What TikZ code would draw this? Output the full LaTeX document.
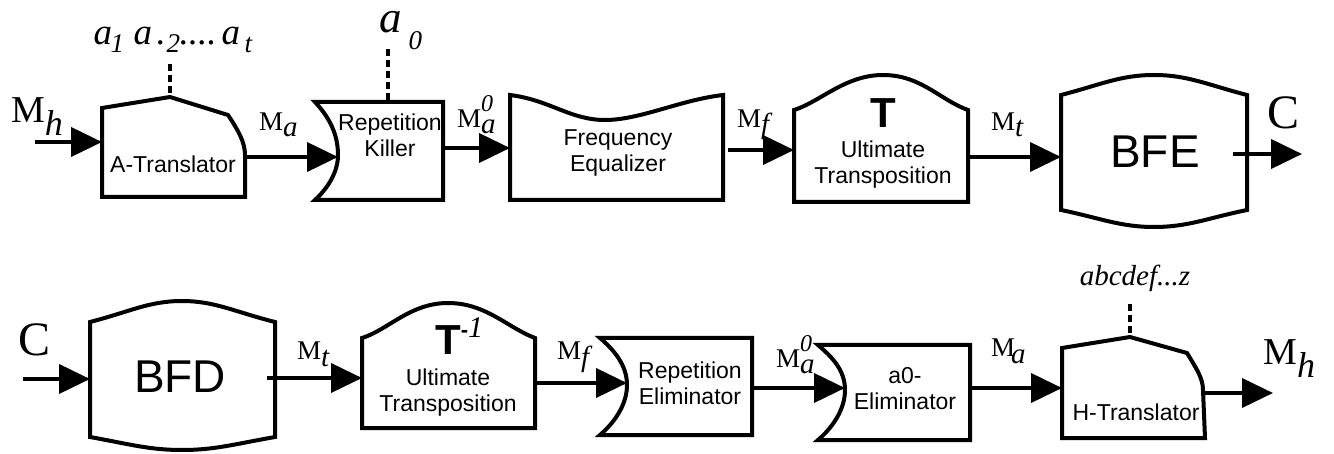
\documentclass[tikz,border=0pt]{standalone}
\usepackage{fontspec}
\setmainfont{Liberation Serif}
\setsansfont{Liberation Sans}
\usetikzlibrary{arrows.meta}
\newcommand\fsz[1]{\fontsize{#1}{#1}\selectfont}
\newcommand\Msb[1]{{\fsz{27}M\raisebox{-6pt}{\fsz{29}\itshape #1}}}
\newcommand\Msbz[1]{{\fsz{27}M\rlap{\raisebox{16pt}{\fsz{24}\itshape 0}}\raisebox{-6pt}{\fsz{29}\itshape #1}}}
\newcommand\Mbig{{\fsz{38}M\raisebox{-13pt}{\fsz{36}\itshape h}}}
\newcommand\at[2]{\rlap{\hspace{#1}#2}}
\begin{document}
\begin{tikzpicture}[x=1pt,y=-1pt,
  shp/.style={line width=4pt},
  conn/.style={line width=4pt,-{Triangle[length=31pt,width=29pt]}},
  dsh/.style={line width=4pt,dash pattern=on 7pt off 4pt},
  btxt/.style={font=\sffamily\fontsize{23}{26}\selectfont, align=center, inner sep=0pt},
  bigtxt/.style={font=\sffamily\fsz{46}, inner sep=0pt},
  lbl/.style={inner sep=0pt, anchor=base west},
  ]
\useasboundingbox (0,0) rectangle (1334,454);

% ---------- top row ----------
% A-Translator
\draw[shp] (102,197) -- (102,108) -- (170,97) -- (228,115) .. controls (238,130) and (245,142) .. (245,155) -- (245,197) -- cycle;
\node[btxt] (atr) at (173,164) {A-Translator};
\coordinate (atrIn) at (102,142);
\coordinate (atrOut) at (245,157);
\coordinate (atrTop) at (170,97);
\coordinate (atrDash) at (170,64);
\node[lbl, font=\fsz{37}\itshape] (alist) at (93,45) {\at{0pt}{a}\at{17pt}{\raisebox{-8pt}{\fsz{27}1}}\at{40pt}{a}\at{63pt}{.}\at{73pt}{\raisebox{-8pt}{\fsz{27}2}}\at{86pt}{....}\at{128pt}{a}\at{151pt}{\raisebox{-8pt}{\fsz{27}t}}};
\draw[dsh] (atrDash) -- (atrTop);

% Repetition Killer
\draw[shp] (315,102) -- (443,102) -- (443,200) -- (315,200) .. controls (328,188) and (338,172) .. (338,155) .. controls (338,135) and (330,118) .. (315,102) -- cycle;
\node[btxt] (rk) at (390,135) {Repetition\\Killer};
\coordinate (rkIn) at (338,157);
\coordinate (rkOut) at (443,148);
\coordinate (rkTop) at (388,102);
\coordinate (rkDash) at (388,49);
\node[lbl] (azero) at (379,33) {\fsz{45}\itshape a\hspace{7pt}\raisebox{-17pt}{\fsz{27}0}};
\draw[dsh] (rkDash) -- (rkTop);

% Frequency Equalizer
\draw[shp] (510,200) -- (510,95) .. controls (550,100) and (570,120) .. (605,120) .. controls (640,120) and (680,100) .. (723,95) -- (723,200) -- cycle;
\node[btxt] (fe) at (618,153) {Frequency\\Equalizer};
\coordinate (feIn) at (510,148);
\coordinate (feOut) at (728,150);

% Ultimate Transposition
\draw[shp] (794,202) -- (794,110) .. controls (820,102) and (845,75) .. (883,75) .. controls (921,75) and (940,100) .. (968,110) -- (968,202) -- cycle;
\node[font=\sffamily\bfseries\fsz{42}, inner sep=0pt] (utT) at (883,113) {T};
\node[btxt] (ut) at (883,165) {Ultimate\\Transposition};
\coordinate (utIn) at (794,150);
\coordinate (utOut) at (968,157);

% BFE
\draw[shp] (1061,210) -- (1061,95) .. controls (1100,85) and (1120,75) .. (1154,75) .. controls (1188,75) and (1208,85) .. (1247,95) -- (1247,210) .. controls (1208,218) and (1188,227) .. (1154,227) .. controls (1120,227) and (1100,218) .. (1061,210) -- cycle;
\node[bigtxt] (bfe) at (1155,152) {BFE};
\coordinate (bfeIn) at (1061,157);
\coordinate (bfeOut) at (1233,154);
\coordinate (cOut) at (1302,154);

% top connectors
\coordinate (mhIn) at (35,142);
\draw[conn] (mhIn) -- (atrIn);
\draw[conn] (atrOut) -- (rkIn);
\draw[conn] (rkOut) -- (feIn);
\draw[conn] (feOut) -- (utIn);
\draw[conn] (utOut) -- (bfeIn);
\draw[conn] (bfeOut) -- (cOut);

% top labels
\node[lbl] (lMh1) at (11,123) {\Mbig};
\node[lbl] (lMa1) at (259,131) {\Msb{a}};
\node[lbl] (lMa01) at (457,128) {\Msbz{a}};
\node[lbl] (lMf1) at (737,128) {\Msb{f}};
\node[lbl] (lMt1) at (991,131) {\Msb{t}};
\node[inner sep=0pt, font=\fsz{48}] (lc1) at (1283,113) {C};

% ---------- bottom row ----------
% BFD
\draw[shp] (90,437) -- (90,322) .. controls (129,312) and (149,301) .. (182,301) .. controls (215,301) and (235,312) .. (275,322) -- (275,437) .. controls (235,444) and (215,450) .. (182,450) .. controls (149,450) and (129,444) .. (90,437) -- cycle;
\node[bigtxt] (bfd) at (180,377) {BFD};
\coordinate (bfdIn) at (90,379);
\coordinate (bfdOut) at (267,378);
\coordinate (cIn) at (23,379);

% Ultimate Transposition inverse
\draw[shp] (362,428) -- (362,338) .. controls (388,330) and (410,303) .. (448,303) .. controls (486,303) and (508,328) .. (535,338) -- (535,428) -- cycle;
\node[font=\sffamily\bfseries\fsz{42}, inner sep=0pt, anchor=base west] (utiT) at (435,355) {T\raisebox{17pt}{\fsz{22}-}\raisebox{17pt}{\rmfamily\mdseries\itshape\fsz{30}1}};
\node[btxt] (uti) at (448,393) {Ultimate\\Transposition};
\coordinate (utiIn) at (362,378);
\coordinate (utiOut) at (535,383);

% Repetition Eliminator
\draw[shp] (600,338) -- (752,338) -- (752,435) -- (600,435) .. controls (614,423) and (627,405) .. (627,385) .. controls (627,365) and (614,350) .. (600,338) -- cycle;
\node[btxt] (re) at (690,383) {Repetition\\Eliminator};
\coordinate (reIn) at (627,383);
\coordinate (reOut) at (752,388);

% a0-Eliminator
\draw[shp] (818,345) -- (970,345) -- (970,440) -- (818,440) .. controls (832,428) and (845,410) .. (845,390) .. controls (845,370) and (832,357) .. (818,345) -- cycle;
\node[btxt] (aze) at (905,389) {a0-\\Eliminator};
\coordinate (azeIn) at (845,388);
\coordinate (azeOut) at (970,388);

% H-Translator
\draw[shp] (1062,438) -- (1062,348) -- (1130,337) -- (1187,353) .. controls (1196,368) and (1203,378) .. (1203,390) -- (1205,438) -- cycle;
\node[btxt] (ht) at (1136,412) {H-Translator};
\coordinate (htIn) at (1062,388);
\coordinate (htOut) at (1204,393);
\coordinate (mhOut) at (1273,393);
\coordinate (htTop) at (1130,337);
\coordinate (htDash) at (1130,304);
\node[inner sep=0pt, font=\fsz{29}\itshape] (alpha) at (1135,278) {abcdef...z};
\draw[dsh] (htDash) -- (htTop);

% bottom connectors
\draw[conn] (cIn) -- (bfdIn);
\draw[conn] (bfdOut) -- (utiIn);
\draw[conn] (utiOut) -- (reIn);
\draw[conn] (reOut) -- (azeIn);
\draw[conn] (azeOut) -- (htIn);
\draw[conn] (htOut) -- (mhOut);

% bottom labels
\node[inner sep=0pt, font=\fsz{48}] (lc2) at (35,340) {C};
\node[lbl] (lMt2) at (297,360) {\Msb{t}};
\node[lbl] (lMf2) at (557,360) {\Msb{f}};
\node[lbl] (lMa02) at (776,367) {\Msbz{a}};
\node[lbl] (lMa2) at (991,357) {{\fsz{27}M\kern-4pt\raisebox{-6pt}{\fsz{29}\itshape a}}};
\node[lbl] (lMh2) at (1263,365) {\Mbig};
\end{tikzpicture}
\end{document}
